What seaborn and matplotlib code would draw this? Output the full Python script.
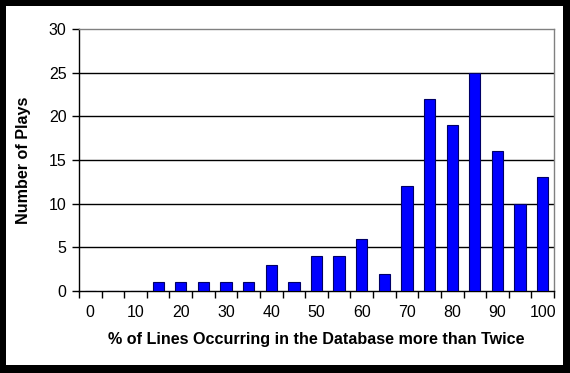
import matplotlib
matplotlib.use("Agg")
import matplotlib.pyplot as plt
import seaborn as sns
import numpy as np
import pandas as pd
from matplotlib.patches import Rectangle

categories = [0, 5, 10, 15, 20, 25, 30, 35, 40, 45, 50, 55, 60, 65, 70, 75, 80, 85, 90, 95, 100]
plays = [0, 0, 0, 1, 1, 1, 1, 1, 3, 1, 4, 4, 6, 2, 12, 22, 19, 25, 16, 10, 13]
yticks = [0, 5, 10, 15, 20, 25, 30]

sns.set_style("white")
plt.rcParams['font.family'] = ['Liberation Sans', 'DejaVu Sans']
plt.rcParams['text.color'] = 'black'
plt.rcParams['axes.labelcolor'] = 'black'
plt.rcParams['xtick.color'] = 'black'
plt.rcParams['ytick.color'] = 'black'

fig = plt.figure(figsize=(5.7, 3.73), dpi=100, facecolor='black')
bg = Rectangle((6/570, 8/373), (563-6)/570, (367-8)/373,
               transform=fig.transFigure, facecolor='white',
               edgecolor='none', zorder=-10)
fig.add_artist(bg)
ax = fig.add_axes([79/570, 1-291/373, (554-79)/570, (291-29)/373])
ax.set_zorder(5)

df = pd.DataFrame({"cat": [str(c) for c in categories], "val": plays})
sns.barplot(data=df, x="cat", y="val", color="#0000ff", edgecolor="#000066",
            linewidth=0.8, width=0.5, saturation=1, ax=ax, zorder=3)

ax.set_xlim(-0.5, len(categories)-0.5)
ax.set_ylim(0, 30)
ax.set_yticks(yticks)
ax.set_yticklabels([str(t) for t in yticks], fontsize=11.5, color='black')
for t in yticks[1:-1]:
    ax.axhline(t, color='black', linewidth=1, zorder=1)

pos = np.arange(len(categories))
ax.set_xticks(pos[::2])
ax.set_xticklabels([str(c) for c in categories[::2]], fontsize=11.5, color='black')
ax.set_xticks(np.arange(-0.5, len(categories), 1), minor=True)
ax.tick_params(axis='x', which='major', length=0, pad=10)
ax.tick_params(axis='x', which='minor', length=5, width=1, color='black', direction='out', bottom=True)
ax.tick_params(axis='y', length=5, width=1, color='black', direction='out', left=True, pad=4)

for s in ['left', 'bottom']:
    ax.spines[s].set_color('black')
    ax.spines[s].set_linewidth(1)
for s in ['top', 'right']:
    ax.spines[s].set_visible(True)
    ax.spines[s].set_color('#808080')
    ax.spines[s].set_linewidth(1)

ax.set_xlabel("% of Lines Occurring in the Database more than Twice", fontsize=11.6,
              fontweight='bold', labelpad=9, color='black')
ax.set_ylabel("Number of Plays", fontsize=11.6, fontweight='bold', labelpad=13, color='black')

fig.savefig("out.png", dpi=100, facecolor='black')
